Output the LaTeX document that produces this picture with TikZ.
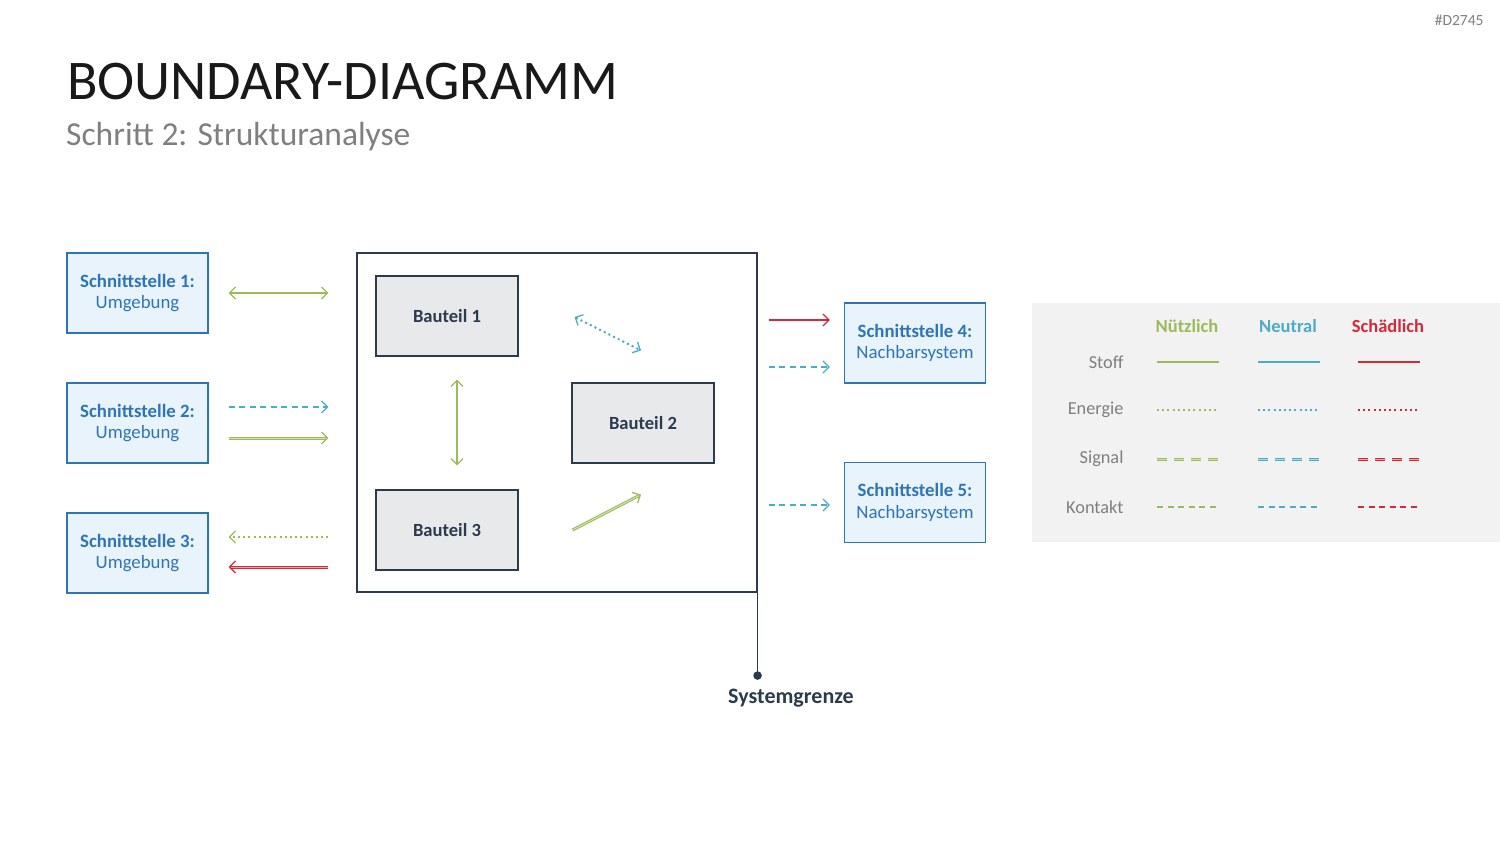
\documentclass[tikz,border=0pt]{standalone}
\usepackage{fontspec}
\setmainfont{Carlito}
\definecolor{ifblue}{RGB}{46,117,182}
\definecolor{iffill}{RGB}{232,243,251}
\definecolor{navy}{RGB}{44,58,78}
\definecolor{partfill}{RGB}{232,233,235}
\definecolor{goodgreen}{RGB}{155,187,89}
\definecolor{neutblue}{RGB}{75,172,198}
\definecolor{badred}{RGB}{210,42,58}
\definecolor{legbg}{RGB}{242,242,242}
\definecolor{txtgray}{RGB}{127,127,127}
\usetikzlibrary{arrows.meta, positioning}

\begin{document}
\begin{tikzpicture}[
  x=1pt, y=-1pt,
  ifbox/.style={draw=ifblue, fill=iffill, line width=1.3pt, minimum width=141pt, minimum height=80pt, align=center, text=ifblue, font=\fontsize{18.8}{21.5}\selectfont},
  partbox/.style={draw=navy, fill=partfill, line width=1.1pt, minimum width=142pt, minimum height=80pt, text=navy, font=\bfseries\fontsize{18.6}{21}\selectfont},
  barb/.tip={Straight Barb[length=6pt, width=12pt, line width=1.3pt]},
  stoff/.style={line width=1.4pt},
  energie/.style={line width=2pt, dash pattern=on 2pt off 3.2pt},
  signal/.style={line width=1pt, dash pattern=on 10pt off 7pt},
  kontakt/.style={line width=1.4pt, dash pattern=on 6pt off 4.5pt},
  legtext/.style={text=txtgray, font=\fontsize{18.3}{21}\selectfont},
  leghead/.style={font=\bfseries\fontsize{18.5}{21}\selectfont}
]
  \useasboundingbox (0,0) rectangle (1500,844);

  \node[anchor=east, text=txtgray, font=\fontsize{15.5}{18}\selectfont] (tag) at (1487,20) {\#D2745};
  \node[anchor=west, inner sep=0pt, text=black!90, font=\fontsize{56}{62}\selectfont] (title) at (67,82) {BOUNDARY-DIAGRAMM};
  \node[anchor=west, inner sep=0pt, text=txtgray, font=\fontsize{33.5}{38}\selectfont] (subtitle) at (66,137) {Schritt 2: Strukturanalyse};

  \node[ifbox] (s1) at (137.5,293) {\textbf{Schnittstelle 1:}\\Umgebung};
  \node[ifbox] (s2) at (137.5,423) {\textbf{Schnittstelle 2:}\\Umgebung};
  \node[ifbox] (s3) at (137.5,553) {\textbf{Schnittstelle 3:}\\Umgebung};
  \node[ifbox] (s4) at (915,343) {\textbf{Schnittstelle 4:}\\Nachbarsystem};
  \node[ifbox] (s5) at (915,502.5) {\textbf{Schnittstelle 5:}\\Nachbarsystem};

  \node[draw=navy, line width=1.1pt, minimum width=400pt, minimum height=339pt] (sys) at (557,422.5) {};
  \node[partbox] (b1) at (447,316) {Bauteil 1};
  \node[partbox] (b2) at (643,423) {Bauteil 2};
  \node[partbox] (b3) at (447,530) {Bauteil 3};

  \draw[stoff, goodgreen, barb-barb] ([xshift=20pt]s1.east) -- ([xshift=-28pt]sys.west |- s1.east);
  \draw[kontakt, neutblue, -barb] ([xshift=20pt,yshift=16pt]s2.east) -- ([xshift=-28pt,yshift=16pt]sys.west |- s2.east);
  \draw[goodgreen, double=goodgreen!45, double distance=1pt, line width=1pt, -barb] ([xshift=20pt,yshift=-15pt]s2.east) -- ([xshift=-28pt,yshift=-15pt]sys.west |- s2.east);
  \draw[energie, goodgreen, -barb] ([xshift=-28pt,yshift=16pt]sys.west |- s3.east) -- ([xshift=20pt,yshift=16pt]s3.east);
  \draw[badred, double=badred!45, double distance=1pt, line width=1pt, -barb] ([xshift=-28pt,yshift=-14pt]sys.west |- s3.east) -- ([xshift=20pt,yshift=-14pt]s3.east);

  \draw[stoff, goodgreen, barb-barb] ([xshift=10pt,yshift=-23pt]b1.south) -- ([xshift=10pt,yshift=24pt]b3.north);
  \draw[energie, neutblue, barb-barb] ([xshift=56pt,yshift=-1pt]b1.east) -- ([xshift=-2pt,yshift=32pt]b2.north);
  \draw[goodgreen, double=goodgreen!45, double distance=1pt, line width=1pt, -barb] ([xshift=54pt]b3.east) -- ([xshift=-2pt,yshift=-31pt]b2.south);

  \draw[stoff, badred, -barb] ([xshift=11pt,yshift=23pt]sys.east |- s4.west) -- ([xshift=-14pt,yshift=23pt]s4.west);
  \draw[kontakt, neutblue, -barb] ([xshift=11pt,yshift=-24pt]sys.east |- s4.west) -- ([xshift=-14pt,yshift=-24pt]s4.west);
  \draw[kontakt, neutblue, -barb] ([xshift=11pt,yshift=-2.5pt]sys.east |- s5.west) -- ([xshift=-14pt,yshift=-2.5pt]s5.west);

  \coordinate (grenze) at ([yshift=-83pt]sys.south east);
  \draw[navy, line width=1.3pt] (sys.south east) -- (grenze);
  \fill[navy] (grenze) circle (4.3pt);
  \node[text=navy, font=\bfseries\fontsize{22}{26}\selectfont] (sysgr) at (791,698) {Systemgrenze};

  \fill[legbg] (1032,303) rectangle (1500,542);
  \node[leghead, text=goodgreen] (hgood) at (1187,326) {Nützlich};
  \node[leghead, text=neutblue] (hneut) at (1288,326) {Neutral};
  \node[leghead, text=badred] (hbad) at (1388,326) {Schädlich};
  \node[legtext, anchor=east] (lstoff) at (1127,362) {Stoff};
  \node[legtext, anchor=east] (lenergie) at (1127,410) {Energie};
  \node[legtext, anchor=east] (lsignal) at (1127,459) {Signal};
  \node[legtext, anchor=east] (lkontakt) at (1127,507) {Kontakt};
  \foreach \col/\cx in {goodgreen/1157, neutblue/1258, badred/1358} {
    \draw[stoff, \col] (\cx,362) -- ++(62,0);
    \draw[energie, \col] (\cx,410) -- ++(62,0);
    \draw[signal, \col, double=\col!45, double distance=1pt] (\cx,459) -- ++(62,0);
    \draw[kontakt, \col] (\cx,507) -- ++(62,0);
  }
\end{tikzpicture}
\end{document}
